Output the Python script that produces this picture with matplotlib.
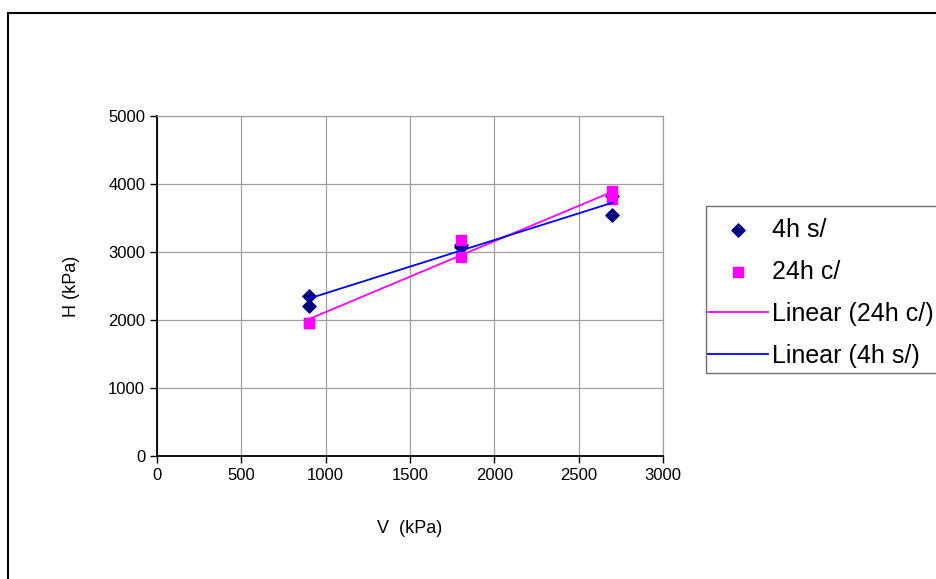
import numpy as np
import matplotlib
matplotlib.use("Agg")
import matplotlib.pyplot as plt
from matplotlib.patches import Rectangle

plt.rcParams['font.family'] = ['Liberation Sans', 'DejaVu Sans']

# data
v_4h = [900, 900, 1800, 1800, 2700, 2700]
h_4h = [2350, 2210, 3100, 3080, 3830, 3550]
v_24h = [900, 900, 1800, 1800, 2700, 2700]
h_24h = [1960, 1960, 3180, 2930, 3890, 3780]

x_ticks = [0, 500, 1000, 1500, 2000, 2500, 3000]
y_ticks = [0, 1000, 2000, 3000, 4000, 5000]

W, H = 936, 579
fig = plt.figure(figsize=(W/100, H/100), dpi=100)
ax = fig.add_axes([157/W, 1 - 456/H, 506/W, 340/H])

# outer chart border (cut off at right and bottom like the original)
fig.patches.append(Rectangle((8/W, -0.05), 1.0, 1 - 13/H + 0.05,
                             transform=fig.transFigure, fill=False,
                             edgecolor='black', linewidth=1.5, clip_on=False))
# legend box, also running off the right edge
fig.patches.append(Rectangle((706/W, 1 - 373/H), 0.3, 167/H,
                             transform=fig.transFigure, fill=False,
                             edgecolor='#707070', linewidth=1.0, clip_on=False))

ax.scatter(v_4h, h_4h, marker='D', s=45, color='#000080', label='4h s/', zorder=3)
ax.scatter(v_24h, h_24h, marker='s', s=55, color='#FF00FF', label='24h c/', zorder=3)

# linear trendlines like excel
xl = np.array([900, 2700])
p24 = np.polyfit(v_24h, h_24h, 1)
p4 = np.polyfit(v_4h, h_4h, 1)
ax.plot(xl, np.polyval(p24, xl), color='#FF00FF', lw=1.3, label='Linear (24h c/)', zorder=4)
ax.plot(xl, np.polyval(p4, xl), color='#0000FF', lw=1.3, label='Linear (4h s/)', zorder=4)

ax.set_xlim(0, 3000)
ax.set_ylim(0, 5000)
ax.set_xticks(x_ticks)
ax.set_yticks(y_ticks)
ax.tick_params(direction='out', length=5, labelsize=12, width=1)
ax.grid(True, color='#A0A0A0', lw=0.9)
ax.set_axisbelow(True)
for s in ['top', 'right']:
    ax.spines[s].set_color('#A0A0A0')
    ax.spines[s].set_linewidth(0.9)
for s in ['left', 'bottom']:
    ax.spines[s].set_linewidth(1.3)

ax.set_xlabel('V  (kPa)', fontsize=13, labelpad=27)
ax.set_ylabel('H (kPa)', fontsize=13, labelpad=20)

leg = fig.legend(loc='upper left', bbox_to_anchor=(708/W, 1 - 218/H),
                 fontsize=18, frameon=False,
                 handlelength=2.4, handletextpad=0.15, labelspacing=0.72,
                 borderpad=0, borderaxespad=0, scatterpoints=1)

fig.savefig('out.png', dpi=100)
